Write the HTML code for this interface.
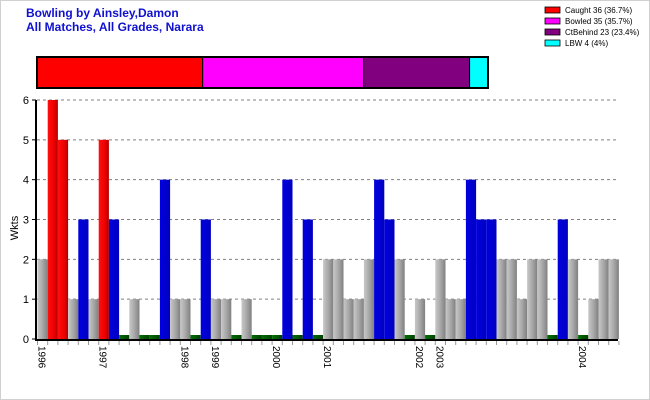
<!DOCTYPE html>
<html><head><meta charset="utf-8"><style>
body{margin:0;background:#fff;}
svg{display:block;font-family:"Liberation Sans",sans-serif;}
</style></head><body>
<svg width="650" height="400">
<defs>
<linearGradient id="gGray" x1="0" x2="1"><stop offset="0" stop-color="#c8c8c8"/><stop offset="0.5" stop-color="#a8a8a8"/><stop offset="1" stop-color="#808080"/></linearGradient>
<linearGradient id="gRed" x1="0" x2="1"><stop offset="0" stop-color="#ff1010"/><stop offset="0.6" stop-color="#ee0000"/><stop offset="1" stop-color="#b00000"/></linearGradient>
<linearGradient id="gBlue" x1="0" x2="1"><stop offset="0" stop-color="#0000e0"/><stop offset="1" stop-color="#0000c0"/></linearGradient>
<linearGradient id="gGreen" x1="0" x2="1"><stop offset="0" stop-color="#007000"/><stop offset="1" stop-color="#004000"/></linearGradient>
</defs>
<rect x="0.5" y="0.5" width="649" height="399" fill="#fff" stroke="#d0d0d0"/>
<text x="26" y="17" font-size="12" font-weight="bold" fill="#1010d0">Bowling by Ainsley,Damon</text>
<text x="26" y="31" font-size="12" font-weight="bold" fill="#1010d0">All Matches, All Grades, Narara</text>
<g id="dismiss"></g>
<g id="legend"></g>
<g id="grid"></g>
<g id="bars"></g>
<g id="axes"></g>
<text x="18" y="228" font-size="11" fill="#000" transform="rotate(-90 18 228)" text-anchor="middle">Wkts</text>
</svg>
<script>
const wkts=[2,6,5,1,3,1,5,3,0,1,0,0,4,1,1,0,3,1,1,0,1,0,0,0,4,0,3,0,2,2,1,1,2,4,3,2,0,1,0,2,1,1,4,3,3,2,2,1,2,2,0,3,2,0,1,2,2];
const kinds=['g','r','r','g','b','g','r','b','z','g','z','z','b','g','g','z','b','g','g','z','g','z','z','z','b','z','b','z','g','g','g','g','g','b','b','g','z','g','z','g','g','g','b','b','b','g','g','g','g','g','z','b','g','z','g','g','g'];
const yearLabels=['1996','1997','1998','1999','2000','2001','2002','2003','2004'];
const yearSlots=[0,6,14,17,23,28,37,39,53];
const yTicks=[0,1,2,3,4,5,6];
const dismissNames=['Caught','Bowled','CtBehind','LBW'];
const dismissCounts=[36,35,23,4];
const dismissPct=['36.7%','35.7%','23.4%','4%'];
const dismissColors=['#ff0000','#ff00ff','#800080','#00ffff'];

const NS='http://www.w3.org/2000/svg';
function mk(tag,attrs,parent){const e=document.createElementNS(NS,tag);for(const k in attrs)e.setAttribute(k,attrs[k]);parent.appendChild(e);return e;}
const X0=37.5,SW=10.2,Y0=339,Y6=100;
const xs=i=>X0+i*SW;
const ys=v=>Y0-(v/6)*(Y0-Y6);

const grid=document.getElementById('grid');
yTicks.forEach(t=>{
  if(t>0){const l=mk('line',{x1:37,x2:618,y1:ys(t),y2:ys(t),stroke:'#808080','stroke-dasharray':'3,3'},grid);
  
  }
  const tk=mk('line',{x1:32,x2:36,y1:ys(t),y2:ys(t),stroke:'#000'},grid);
  
  
  const tx=mk('text',{x:29,y:ys(t)+4,'font-size':'11','text-anchor':'end'},grid);
  tx.textContent=t;
  
  
});

const bars=document.getElementById('bars');
const fills={g:'url(#gGray)',r:'url(#gRed)',b:'url(#gBlue)',z:'url(#gGreen)'};
wkts.forEach((v,i)=>{
  const top=v>0?ys(v):Y0-4;
  const r=mk('rect',{x:xs(i),y:top,width:SW,height:Y0-top,fill:fills[kinds[i]]},bars);
  
  
});

const axes=document.getElementById('axes');
mk('line',{x1:36,x2:36,y1:100,y2:341,stroke:'#000','stroke-width':2},axes);
mk('line',{x1:35,x2:618,y1:340,y2:340,stroke:'#000','stroke-width':2},axes);
for(let i=0;i<=wkts.length;i++){
  const t=mk('line',{x1:xs(i),x2:xs(i),y1:341,y2:345,stroke:'#999'},axes);
  
  
}
yearLabels.forEach((y,k)=>{
  const x=xs(yearSlots[k])+1;
  const t=mk('text',{x:x,y:346,'font-size':'10',transform:`rotate(90 ${x} 346)`},axes);
  t.textContent=y;
  
  
});

const dis=document.getElementById('dismiss');
const total=dismissCounts.reduce((a,b)=>a+b,0);
let cx=37;const W=451;
dismissCounts.forEach((c,i)=>{
  const w=c/total*W;
  const r=mk('rect',{x:cx,y:57,width:w,height:31,fill:dismissColors[i],stroke:'#000','stroke-width':1},dis);
  
  
  cx+=w;
});
mk('rect',{x:37,y:57,width:W,height:31,fill:'none',stroke:'#000','stroke-width':2},dis);

const leg=document.getElementById('legend');
dismissNames.forEach((n,i)=>{
  const y=7+i*11;
  const s=mk('rect',{x:545,y:y,width:15,height:6,fill:dismissColors[i],stroke:'#000','stroke-width':0.8},leg);
  
  
  const t=mk('text',{x:565,y:y+6,'font-size':'8',fill:'#000'},leg);
  t.textContent=`${n} ${dismissCounts[i]} (${dismissPct[i]})`;
  
  
});
</script>
</body></html>
